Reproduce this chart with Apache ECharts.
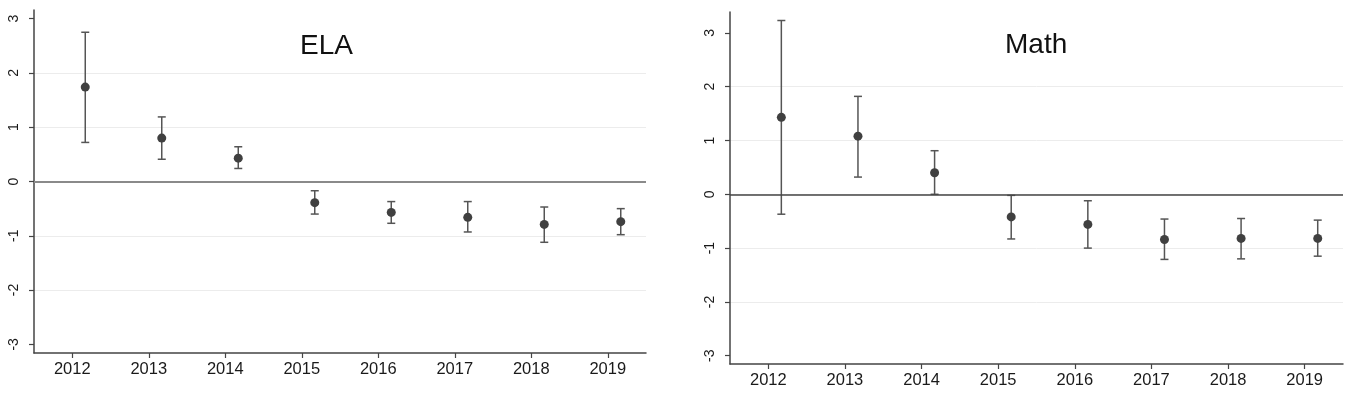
<!DOCTYPE html>
<html><head><meta charset="utf-8">
<script src="https://cdn.jsdelivr.net/npm/echarts@6/dist/echarts.min.js"></script>
<style>html,body{margin:0;padding:0;background:#fff}#c{width:1350px;height:396px}</style>
</head><body><div id="c"></div>
<script>
// ---- data ----
const years = [2012, 2013, 2014, 2015, 2016, 2017, 2018, 2019];
const yTicks = [-3, -2, -1, 0, 1, 2, 3];
const panelTitles = ['ELA', 'Math'];
const elaEst  = [1.74, 0.80, 0.43, -0.39, -0.57, -0.66, -0.79, -0.74];
const elaLow  = [0.72, 0.41, 0.24, -0.60, -0.77, -0.93, -1.12, -0.98];
const elaHigh = [2.75, 1.19, 0.64, -0.17, -0.37, -0.37, -0.47, -0.50];
const mathEst  = [1.43, 1.08, 0.40, -0.42, -0.56, -0.84, -0.82, -0.82];
const mathLow  = [-0.37, 0.32, 0.00, -0.83, -1.00, -1.21, -1.20, -1.15];
const mathHigh = [3.23, 1.82, 0.81, -0.02, -0.12, -0.46, -0.45, -0.48];

// ---- layout / style ----
const DODGE = 0.17;
const FONT = '"Liberation Sans", Arial, sans-serif';
const grids = [
  {left: 34, top: 10, width: 612, height: 343},
  {left: 730, top: 12, width: 613, height: 352}
];
const yRanges = [[-3.16, 3.16], [-3.154, 3.388]];
const zeroStyles = [
  {color: '#8a8a8a', width: 2.2, type: 'solid'},
  {color: '#444', width: 1.5, type: 'solid'}
];
const panels = [
  {est: elaEst, low: elaLow, high: elaHigh},
  {est: mathEst, low: mathLow, high: mathHigh}
];

function errRender(params, api) {
  const x = api.value(0), lo = api.value(1), hi = api.value(2);
  const pLo = api.coord([x, lo]), pHi = api.coord([x, hi]);
  const w = 4;
  const style = {stroke: '#555', lineWidth: 1.5, fill: null};
  return {type: 'group', children: [
    {type: 'line', shape: {x1: pHi[0], y1: pHi[1], x2: pLo[0], y2: pLo[1]}, style: style},
    {type: 'line', shape: {x1: pHi[0] - w, y1: pHi[1], x2: pHi[0] + w, y2: pHi[1]}, style: style},
    {type: 'line', shape: {x1: pLo[0] - w, y1: pLo[1], x2: pLo[0] + w, y2: pLo[1]}, style: style}
  ]};
}

const xAxes = [], yAxes = [], series = [];
panels.forEach((p, i) => {
  xAxes.push({
    type: 'value', gridIndex: i, min: 2011.5, max: 2019.5,
    axisLine: {show: true, onZero: false, lineStyle: {color: '#444', width: 1.5}},
    axisTick: {show: true, length: 5, lineStyle: {color: '#444', width: 1.2}, customValues: years},
    axisLabel: {customValues: years, margin: 8, fontSize: 16.5, fontFamily: FONT, color: '#1a1a1a',
      formatter: v => String(v)},
    splitLine: {show: false}
  });
  yAxes.push({
    type: 'value', gridIndex: i, min: yRanges[i][0], max: yRanges[i][1],
    axisLine: {show: true, onZero: false, lineStyle: {color: '#444', width: 1.5}},
    axisTick: {show: true, length: 5, lineStyle: {color: '#444', width: 1.2}, customValues: yTicks},
    axisLabel: {customValues: yTicks, rotate: 90, margin: 13, fontSize: 14, fontFamily: FONT, color: '#1a1a1a',
      formatter: v => String(v)},
    splitLine: {show: true, showMinLine: false, showMaxLine: false, lineStyle: {color: '#ececec', width: 1}}
  });
  series.push({
    type: 'custom', xAxisIndex: i, yAxisIndex: i, z: 3,
    renderItem: errRender,
    data: years.map((y, k) => [y + DODGE, p.low[k], p.high[k]]),
    markLine: {silent: true, symbol: 'none', label: {show: false},
      lineStyle: zeroStyles[i], data: [{yAxis: 0}], animation: false}
  });
  series.push({
    type: 'scatter', xAxisIndex: i, yAxisIndex: i, z: 4,
    symbol: 'circle', symbolSize: 9,
    itemStyle: {color: '#404040', opacity: 1},
    data: years.map((y, k) => [y + DODGE, p.est[k]])
  });
});

const chart = echarts.init(document.getElementById('c'), null, {renderer: 'canvas'});
chart.setOption({
  animation: false,
  backgroundColor: '#fff',
  title: [
    {text: panelTitles[0], left: 300, top: 30, padding: [2, 4, 2, 0], backgroundColor: '#fff',
      textStyle: {fontSize: 28, fontWeight: 'normal', fontFamily: FONT, color: '#111'}},
    {text: panelTitles[1], left: 993, top: 29, padding: [2, 38, 2, 12], backgroundColor: '#fff',
      textStyle: {fontSize: 28, fontWeight: 'normal', fontFamily: FONT, color: '#111'}}
  ],
  grid: grids,
  xAxis: xAxes,
  yAxis: yAxes,
  series: series
});
</script>
</body></html>
